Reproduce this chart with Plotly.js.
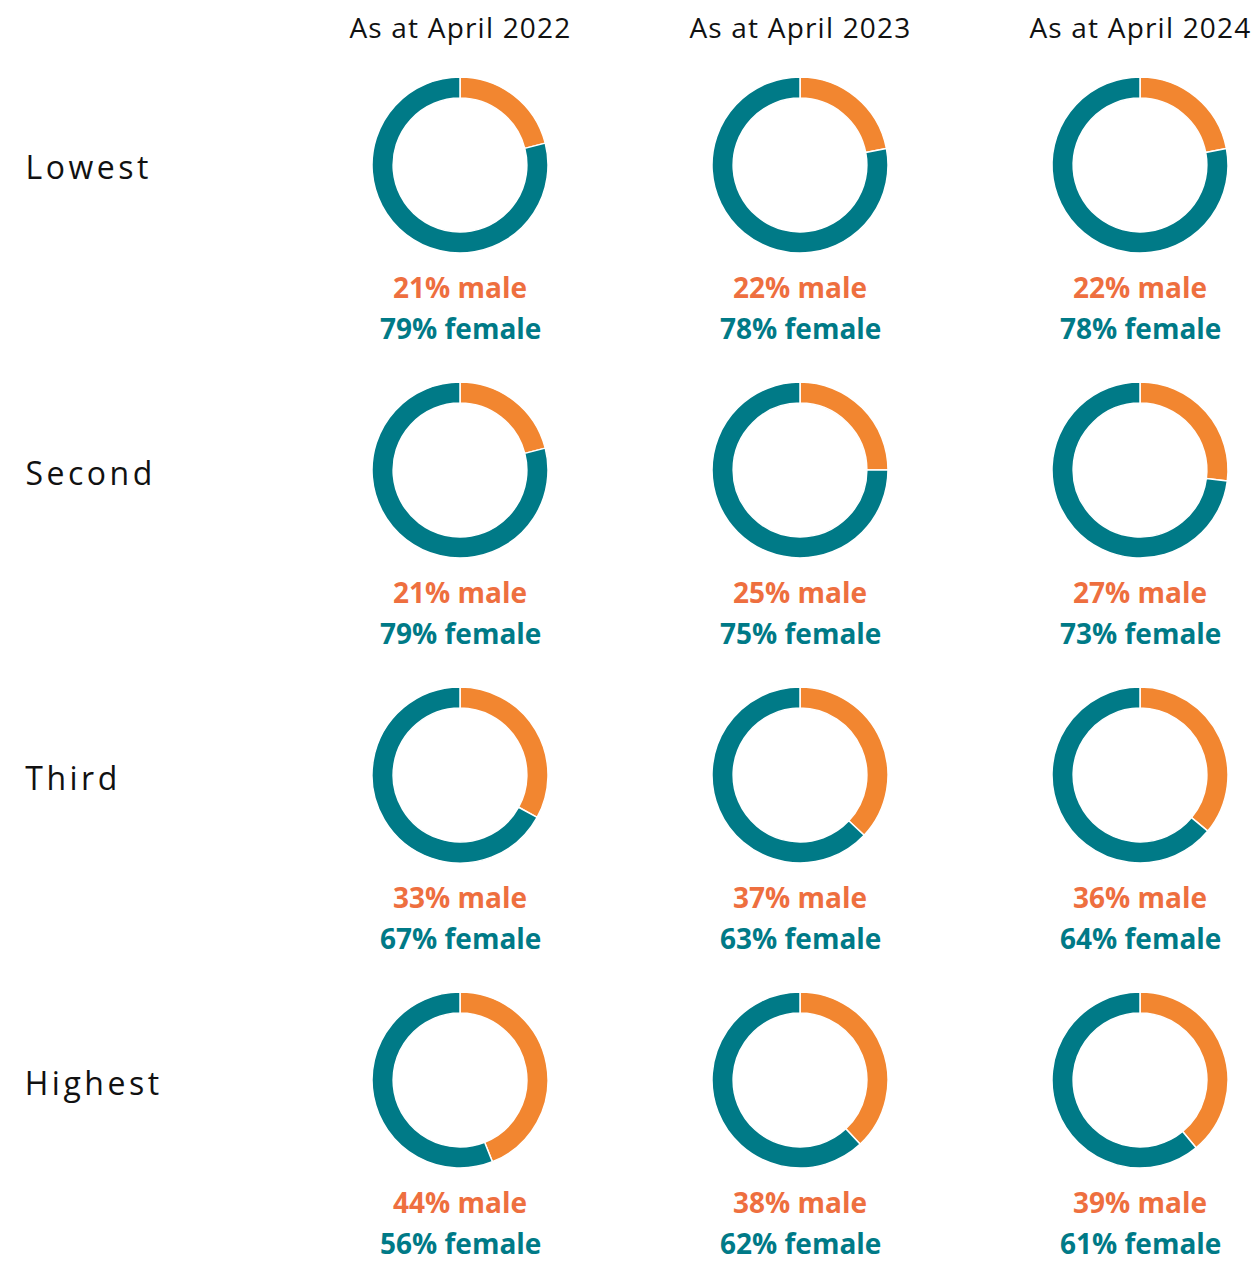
<!DOCTYPE html>
<html>
<head>
<meta charset="utf-8">
<script src="https://cdn.plot.ly/plotly-3.0.1.min.js"></script>
<style>html,body{margin:0;padding:0;background:#fff;} #chart{width:1259px;height:1263px;}</style>
</head>
<body>
<div id="chart"></div>
<script>
const columns = ["As at April 2022", "As at April 2023", "As at April 2024"];
const rows = ["Lowest", "Second", "Third", "Highest"];
// male share per row (rows) x column (years)
const malePct = [
  [21, 22, 22],
  [21, 25, 27],
  [33, 37, 36],
  [44, 38, 39]
];
const femalePct = [
  [79, 78, 78],
  [79, 75, 73],
  [67, 63, 64],
  [56, 62, 61]
];

const W = 1259, H = 1263;
const colX = [460, 800, 1140];
const rowY = [165, 470, 775, 1080];
const R = 88;
const rowSpacing = 3.5;
const orange = "#F28630", orangeText = "#EE6F3F", teal = "#007A87";
const font = "'Open Sans', Lato, sans-serif";

const traces = [];
const annotations = [];
rows.forEach((rname, ri) => {
  annotations.push({xref:"paper", yref:"paper", x: (23 + rname.length*rowSpacing/2)/W, y: 1 - (rowY[ri]+2)/H, xanchor:"left", yanchor:"middle",
    text: rname, showarrow:false, font:{family:font, size:32, color:"#111"}});
  columns.forEach((cname, ci) => {
    traces.push({
      type:"pie",
      values:[malePct[ri][ci], femalePct[ri][ci]],
      labels:["male","female"],
      sort:false, direction:"clockwise", rotation:0,
      hole:0.76,
      marker:{colors:[orange, teal], line:{color:"#fff", width:1.5}},
      textinfo:"none", hoverinfo:"label+percent", showlegend:false,
      domain:{x:[(colX[ci]-R)/W, (colX[ci]+R)/W], y:[1-(rowY[ri]+R)/H, 1-(rowY[ri]-R)/H]}
    });
    annotations.push({xref:"paper", yref:"paper", x: colX[ci]/W, y: 1 - (rowY[ri]+122)/H, xanchor:"center", yanchor:"middle",
      borderpad:0,
      text: "<b>" + malePct[ri][ci] + "% male</b>", showarrow:false, font:{family:font, size:28, color:orangeText}});
    annotations.push({xref:"paper", yref:"paper", x: colX[ci]/W, y: 1 - (rowY[ri]+163)/H, xanchor:"center", yanchor:"middle",
      borderpad:0,
      text: "<b>" + femalePct[ri][ci] + "% female</b>", showarrow:false, font:{family:font, size:28, color:teal}});
  });
});
columns.forEach((cname, ci) => {
  annotations.push({xref:"paper", yref:"paper", x: colX[ci]/W, y: 1 - 27/H, xanchor:"center", yanchor:"middle",
    text: cname, showarrow:false, font:{family:font, size:28, color:"#111"}});
});

Plotly.newPlot("chart", traces, {
  width:W, height:H, margin:{l:0,r:0,t:0,b:0},
  paper_bgcolor:"#fff", plot_bgcolor:"#fff",
  annotations: annotations, showlegend:false
}, {displayModeBar:false, staticPlot:true}).then(gd => {
  gd.querySelectorAll(".annotation-text").forEach(t => {
    if (rows.includes(t.textContent)) t.style.letterSpacing = rowSpacing + "px";
    else if (columns.includes(t.textContent)) t.style.letterSpacing = "1.2px";
  });
});
</script>
</body>
</html>
